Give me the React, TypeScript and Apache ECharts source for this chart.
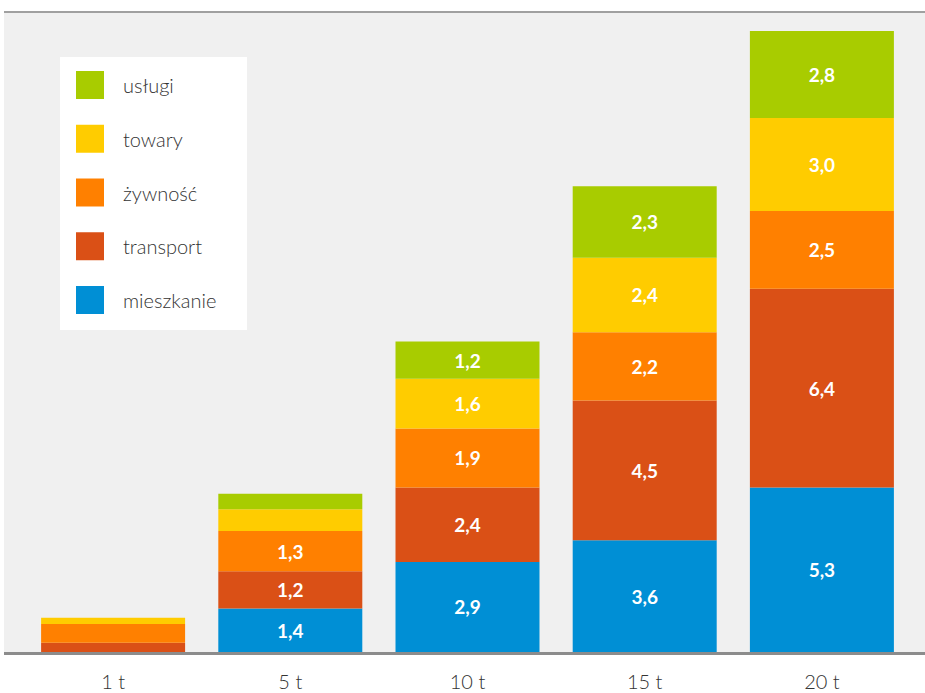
import React, { useEffect, useRef } from "react";
import * as echarts from "echarts";

const categories = ["1 t", "5 t", "10 t", "15 t", "20 t"];
const mieszkanie = [0, 1.4, 2.9, 3.6, 5.3];
const transport = [0.3, 1.2, 2.4, 4.5, 6.4];
const zywnosc = [0.6, 1.3, 1.9, 2.2, 2.5];
const towary = [0.2, 0.7, 1.6, 2.4, 3.0];
const uslugi = [0, 0.5, 1.2, 2.3, 2.8];

const seriesNames = ["mieszkanie", "transport", "żywność", "towary", "usługi"];
const seriesData = [mieszkanie, transport, zywnosc, towary, uslugi];
const colors = ["#008fd5", "#da5016", "#ff8000", "#ffcc00", "#a8cc00"];
const legendOrder = ["usługi", "towary", "żywność", "transport", "mieszkanie"];

export default function App() {
  const ref = useRef<HTMLDivElement>(null);
  useEffect(() => {
    if (!ref.current) return;
    const chart = echarts.init(ref.current, null, { renderer: "svg" });
    chart.setOption({
      animation: false,
      backgroundColor: "#ffffff",
      graphic: [
        { type: "rect", z: -10, silent: true, shape: { x: 4, y: 12, width: 921, height: 641 }, style: { fill: "#f0f0f0" } },
        { type: "line", z: -5, silent: true, shape: { x1: 4, y1: 12, x2: 925, y2: 12 }, style: { stroke: "#a0a0a0", lineWidth: 2 } },
        { type: "rect", z: -5, silent: true, shape: { x: 60, y: 57, width: 187, height: 273 }, style: { fill: "#ffffff" } },
        { type: "line", z: 20, silent: true, shape: { x1: 4, y1: 653.5, x2: 925, y2: 653.5 }, style: { stroke: "#8c8c8c", lineWidth: 3 } },
      ],
      legend: {
        orient: "vertical",
        left: 76,
        top: 71,
        padding: 0,
        itemWidth: 28,
        itemHeight: 28,
        itemGap: 25.75,
        icon: "rect",
        data: legendOrder,
        textStyle: { fontFamily: "Lato", fontWeight: 300, fontSize: 20, color: "#333333", padding: [0, 0, 6, 14] },
      },
      grid: { left: 24.5, right: 14.5, top: 31, bottom: 41, containLabel: false },
      xAxis: {
        type: "category",
        data: categories,
        axisLine: { show: false },
        axisTick: { show: false },
        axisLabel: { margin: 19, fontFamily: "Lato", fontWeight: 300, fontSize: 20, color: "#333333" },
      },
      yAxis: { type: "value", min: 0, max: 20, show: false, splitLine: { show: false } },
      series: seriesNames.map((name, i) => ({
        name,
        type: "bar",
        stack: "total",
        barWidth: 144,
        data: seriesData[i],
        itemStyle: { color: colors[i] },
        label: {
          show: true,
          position: "inside",
          color: "#ffffff",
          fontFamily: "Lato",
          fontWeight: "bold",
          fontSize: 19,
          formatter: (p: any) => (p.value >= 1 ? p.value.toFixed(1).replace(".", ",") : ""),
        },
      })),
    });
    return () => chart.dispose();
  }, []);
  return <div ref={ref} style={{ position: "absolute", left: 0, top: 0, width: 925, height: 693 }} />;
}
